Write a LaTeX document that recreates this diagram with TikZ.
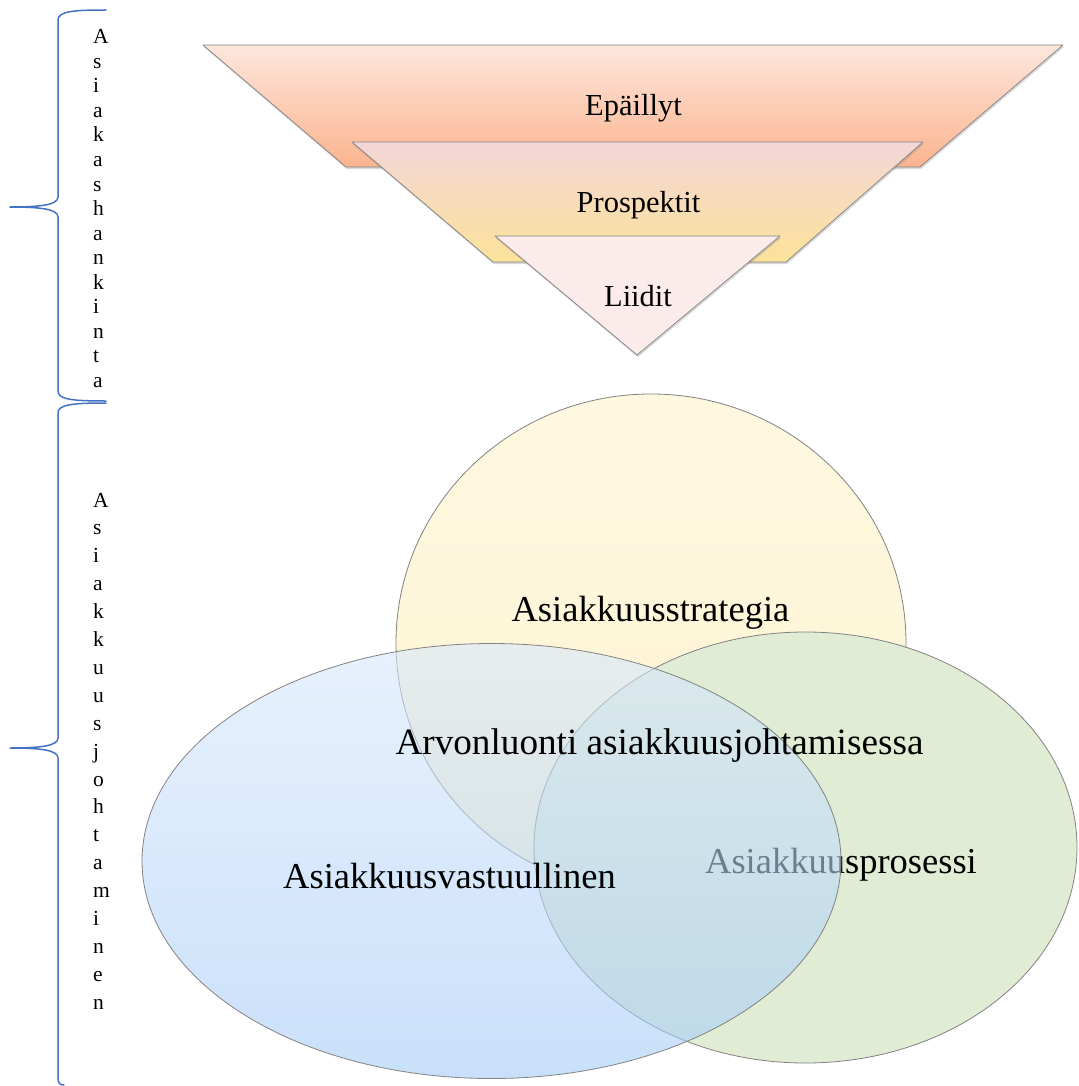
\documentclass[tikz,border=0pt]{standalone}
\usepackage{fontspec}
\setmainfont{Liberation Serif}
\usetikzlibrary{shadows}
\definecolor{braceblue}{RGB}{68,114,196}
\definecolor{ltop}{RGB}{253,230,220}
\definecolor{lbot}{RGB}{251,180,142}
\definecolor{mtop}{RGB}{243,214,215}
\definecolor{mbot}{RGB}{252,226,154}
\definecolor{sfill}{RGB}{251,235,234}
\definecolor{ytop}{RGB}{254,248,225}
\definecolor{ybot}{RGB}{254,243,208}
\definecolor{gfill}{RGB}{224,236,212}
\definecolor{btop}{RGB}{216,232,252}
\definecolor{bbot}{RGB}{163,203,248}
\definecolor{edge}{RGB}{130,130,130}
\begin{document}
\begin{tikzpicture}[x=1pt,y=-1pt,
  layer/.style={draw=edge, line width=0.7pt, line join=round,
    drop shadow={shadow xshift=0.8pt, shadow yshift=-2.2pt, opacity=0.3}},
  venn/.style={draw=edge, line width=0.8pt},
  lbl/.style={font=\fontsize{30.5}{34}\selectfont, inner sep=0pt, anchor=base},
  big/.style={font=\fontsize{36.5}{40}\selectfont, inner sep=0pt, anchor=base},
  letter/.style={font=\fontsize{21.5}{24}\selectfont, inner sep=0pt, anchor=base west},
  brace/.style={draw=braceblue, line width=1.5pt, line cap=round, line join=round}]
\useasboundingbox (0,0) rectangle (1078,1086);
\fill[white] (0,0) rectangle (1078,1086);

% funnel
\path[layer, top color=ltop, bottom color=lbot]
  (203,45) -- (1063,45) -- (920,167) -- (346,167) -- cycle;
\path[layer, top color=mtop, bottom color=mbot]
  (352,142) -- (923,142) -- (786,262) -- (493,262) -- cycle;
\path[layer, fill=sfill]
  (495,236) -- (780,236) -- (637,355) -- cycle;
\node[lbl] (epa) at (633.5,116) {Epäillyt};
\node[lbl] (pro) at (638.5,212) {Prospektit};
\node[lbl] (lii) at (638,306) {Liidit};

% venn
\shade[venn, top color=ytop, bottom color=ybot]
  (651,643) ellipse [x radius=255pt, y radius=249pt];
\fill[gfill] (805.5,847.5) ellipse [x radius=271.5pt, y radius=215.5pt];
\draw[venn] (805.5,847.5) ellipse [x radius=271.5pt, y radius=215.5pt];
\node[big] (proc) at (841,873) {Asiakkuusprosessi};
\shade[top color=btop, bottom color=bbot, fill opacity=0.58]
  (491.5,861) ellipse [x radius=349.5pt, y radius=217.5pt];
\draw[venn] (491.5,861) ellipse [x radius=349.5pt, y radius=217.5pt];
\node[big] (strat) at (650.5,621) {Asiakkuusstrategia};
\node[big, font=\fontsize{37.2}{40}\selectfont] (arvo) at (659.5,754) {Arvonluonti asiakkuusjohtamisessa};
\node[big] (vast) at (449.5,888) {Asiakkuusvastuullinen};

% braces
\draw[brace] (106,10) .. controls (75,10) and (58,11) .. (58,20) -- (58,197)
  .. controls (58,205) and (40,207) .. (10,207)
  .. controls (40,207) and (58,209) .. (58,217) -- (58,391)
  .. controls (58,399) and (70,401) .. (106,401);
\draw[brace] (106,403) .. controls (70,403) and (58,405) .. (58,413) -- (58,738)
  .. controls (58,746) and (40,748) .. (10,748)
  .. controls (40,748) and (58,750) .. (58,758) -- (58,1078)
  .. controls (58,1083) and (60,1085) .. (64,1085);

% vertical letters
\foreach \c [count=\i from 0] in {A,s,i,a,k,a,s,h,a,n,k,i,n,t,a}
  \node[letter, name=ta\i] at (93,{44+24.5*\i}) {\c};
\foreach \c [count=\i from 0] in {A,s,i,a,k,k,u,u,s,j,o,h,t,a,m,i,n,e,n}
  \node[letter, name=tb\i] at (93,{507+27.9*\i}) {\c};
\end{tikzpicture}
\end{document}
